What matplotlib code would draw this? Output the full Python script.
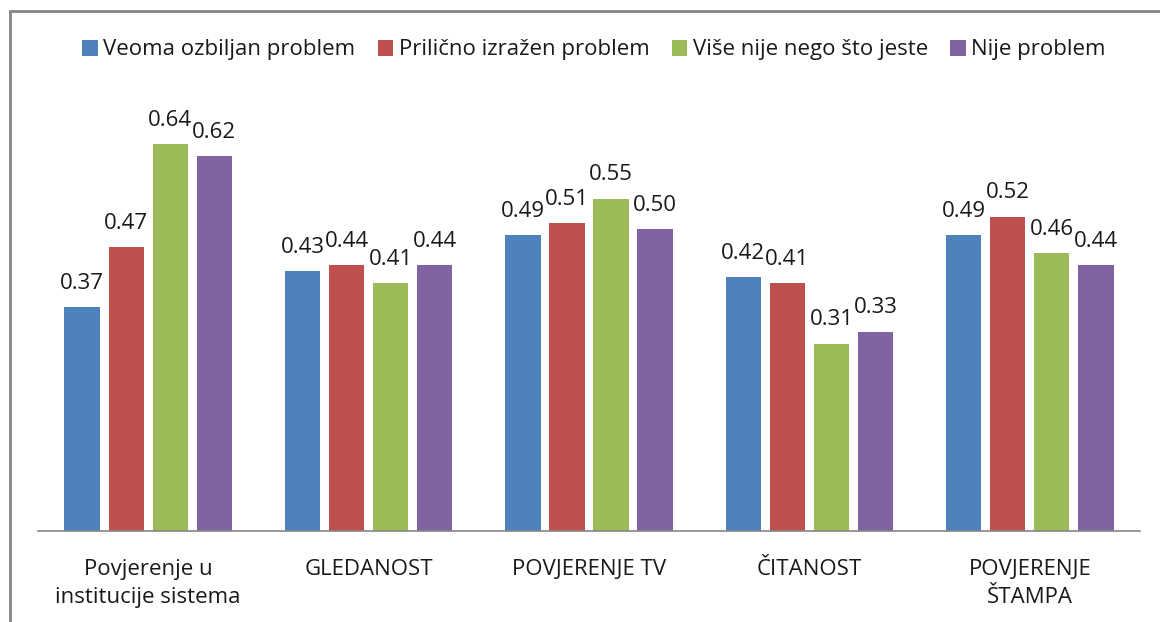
import matplotlib.pyplot as plt
import numpy as np
from matplotlib.patches import Rectangle

categories = ['Povjerenje u\ninstitucije sistema', 'GLEDANOST', 'POVJERENJE TV',
              'ČITANOST', 'POVJERENJE\nŠTAMPA']
series_names = ['Veoma ozbiljan problem', 'Prilično izražen problem',
                'Više nije nego što jeste', 'Nije problem']
veoma = [0.37, 0.43, 0.49, 0.42, 0.49]
prilicno = [0.47, 0.44, 0.51, 0.41, 0.52]
vise_nije = [0.64, 0.41, 0.55, 0.31, 0.46]
nije = [0.62, 0.44, 0.50, 0.33, 0.44]
colors = ['#4f81bd', '#c0504d', '#9bbb59', '#8064a2']

plt.rcParams['font.family'] = ['Open Sans', 'DejaVu Sans']

fig = plt.figure(figsize=(11.6, 6.22), dpi=100, facecolor='white')
ax = fig.add_axes([38 / 1160, 1 - 531 / 622, 1102 / 1160, 423 / 622])

x = np.arange(len(categories))
width = 0.16
step = 0.2
for i, (vals, name, col) in enumerate(zip([veoma, prilicno, vise_nije, nije], series_names, colors)):
    pos = x + (i - 1.5) * step
    ax.bar(pos, vals, width=width, color=col, label=name, zorder=2)
    for px, v in zip(pos, vals):
        ax.text(px, v + 0.022, f'{v:.2f}', ha='center', va='bottom', fontsize=16, color='#1a1a1a')

ax.set_xlim(-0.5, len(categories) - 0.5)
ax.set_ylim(0, 0.7)
ax.set_yticks([])
ax.set_xticks(x)
ax.set_xticklabels(categories, fontsize=16, color='#1a1a1a', linespacing=1.45)
ax.tick_params(axis='x', length=0, pad=20)
for s in ['top', 'right', 'left']:
    ax.spines[s].set_visible(False)
ax.spines['bottom'].set_color('#868686')
ax.spines['bottom'].set_linewidth(1.2)

fig.legend(loc='center', bbox_to_anchor=(0.512, 1 - 50 / 622), ncol=4, frameon=False,
           fontsize=16, handlelength=0.7, handleheight=0.7, handletextpad=0.25,
           columnspacing=1.0, labelcolor='#1a1a1a')

# chart frame (only top and left edges visible in the crop)
fig.patches.append(Rectangle((10 / 1160, -0.1), 1.2, 1 - 11 / 622 + 0.1,
                             transform=fig.transFigure, fill=False,
                             edgecolor='#868686', linewidth=2))

fig.savefig('out.png', dpi=100, facecolor='white')
